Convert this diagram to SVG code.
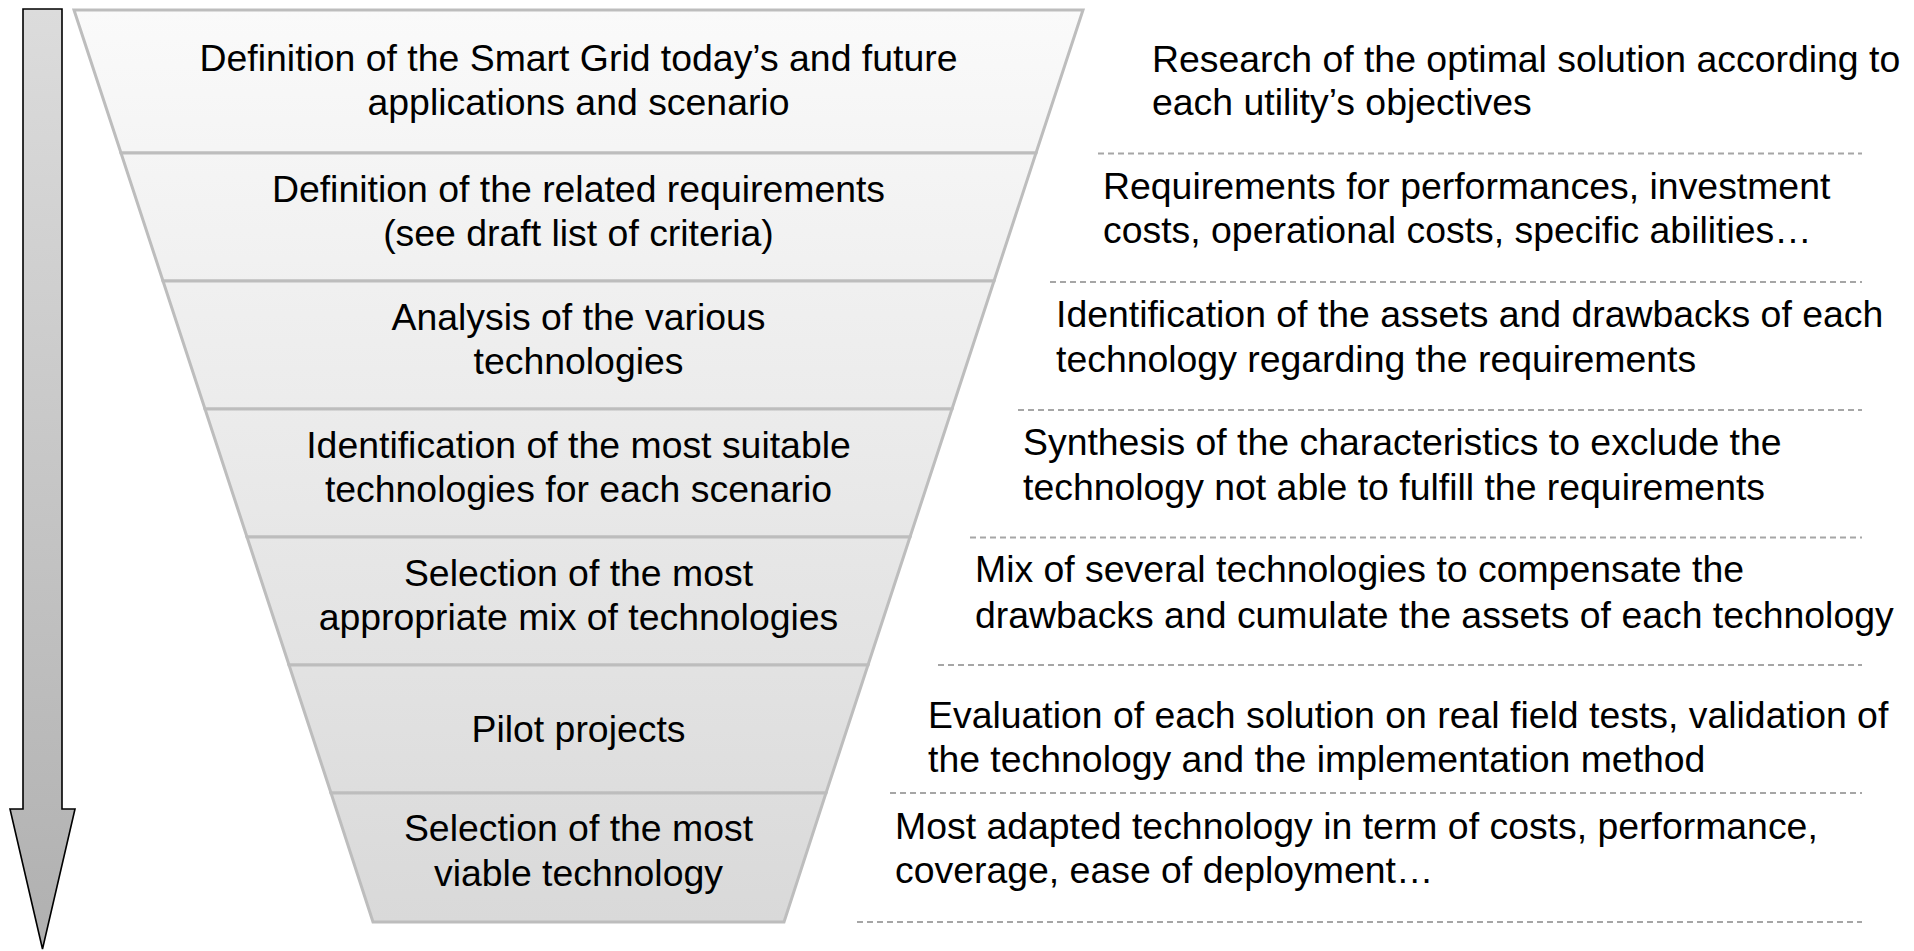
<svg xmlns="http://www.w3.org/2000/svg" width="1914" height="951" viewBox="0 0 1914 951">
  <defs>
    <linearGradient id="funnelFill" gradientUnits="userSpaceOnUse" x1="0" y1="10" x2="0" y2="922">
      <stop offset="0" stop-color="#fafafa"/>
      <stop offset="1" stop-color="#d9d9d9"/>
    </linearGradient>
    <linearGradient id="arrowFill" gradientUnits="userSpaceOnUse" x1="0" y1="9" x2="0" y2="950">
      <stop offset="0" stop-color="#dcdcdc"/>
      <stop offset="1" stop-color="#b0b0b0"/>
    </linearGradient>
  </defs>
  <style>
    .layer { fill: url(#funnelFill); stroke: #bdbdbd; stroke-width: 3; stroke-linejoin: miter; }
    .t { font-family: "Liberation Sans", Arial, sans-serif; font-size: 37.4px; fill: #000000; }
    .c { text-anchor: middle; }
    .sep { stroke: #a6a6a6; stroke-width: 2; stroke-dasharray: 6 4; fill: none; }
    .arrow { fill: url(#arrowFill); stroke: #000000; stroke-width: 1.6; stroke-linejoin: miter; }
  </style>
  <rect x="0" y="0" width="1914" height="951" fill="#ffffff"/>

  <g id="connectors">
    <polygon id="flow-arrow" class="arrow" points="23,9 62,9 62,809 75,809 42.5,949 10,809 23,809"/>
  </g>

  <g id="layer1">
    <polygon class="layer" points="74,10 1083,10 1036,153 121,153"/>
    <text class="t c" x="578.5" y="71">Definition of the Smart Grid today’s and future</text>
    <text class="t c" x="578.5" y="115">applications and scenario</text>
  </g>
  <g id="layer2">
    <polygon class="layer" points="121,153 1036,153 994,281 163,281"/>
    <text class="t c" x="578.5" y="202">Definition of the related requirements</text>
    <text class="t c" x="578.5" y="246">(see draft list of criteria)</text>
  </g>
  <g id="layer3">
    <polygon class="layer" points="163,281 994,281 952,409 205,409"/>
    <text class="t c" x="578.5" y="330">Analysis of the various</text>
    <text class="t c" x="578.5" y="374">technologies</text>
  </g>
  <g id="layer4">
    <polygon class="layer" points="205,409 952,409 910,537 247,537"/>
    <text class="t c" x="578.5" y="458">Identification of the most suitable</text>
    <text class="t c" x="578.5" y="502">technologies for each scenario</text>
  </g>
  <g id="layer5">
    <polygon class="layer" points="247,537 910,537 868,665 289,665"/>
    <text class="t c" x="578.5" y="586">Selection of the most</text>
    <text class="t c" x="578.5" y="630">appropriate mix of technologies</text>
  </g>
  <g id="layer6">
    <polygon class="layer" points="289,665 868,665 826,793 331,793"/>
    <text class="t c" x="578.5" y="742">Pilot projects</text>
  </g>
  <g id="layer7">
    <polygon class="layer" points="331,793 826,793 784,922 373,922"/>
    <text class="t c" x="578.5" y="841">Selection of the most</text>
    <text class="t c" x="578.5" y="886">viable technology</text>
  </g>

  <g id="separators">
    <line class="sep" x1="1098" y1="153.5" x2="1862" y2="153.5"/>
    <line class="sep" x1="1050" y1="282" x2="1862" y2="282"/>
    <line class="sep" x1="1018" y1="410" x2="1862" y2="410"/>
    <line class="sep" x1="970" y1="537.5" x2="1862" y2="537.5"/>
    <line class="sep" x1="938" y1="665" x2="1862" y2="665"/>
    <line class="sep" x1="890" y1="793" x2="1862" y2="793"/>
    <line class="sep" x1="857" y1="922" x2="1862" y2="922"/>
  </g>

  <g id="desc1">
    <text class="t" x="1152" y="72">Research of the optimal solution according to</text>
    <text class="t" x="1152" y="115">each utility’s objectives</text>
  </g>
  <g id="desc2">
    <text class="t" x="1103" y="199">Requirements for performances, investment</text>
    <text class="t" x="1103" y="243">costs, operational costs, specific abilities…</text>
  </g>
  <g id="desc3">
    <text class="t" x="1056" y="327">Identification of the assets and drawbacks of each</text>
    <text class="t" x="1056" y="372">technology regarding the requirements</text>
  </g>
  <g id="desc4">
    <text class="t" x="1023" y="455">Synthesis of the characteristics to exclude the</text>
    <text class="t" x="1023" y="500">technology not able to fulfill the requirements</text>
  </g>
  <g id="desc5">
    <text class="t" x="975" y="582">Mix of several technologies to compensate the</text>
    <text class="t" x="975" y="628">drawbacks and cumulate the assets of each technology</text>
  </g>
  <g id="desc6">
    <text class="t" x="928" y="728">Evaluation of each solution on real field tests, validation of</text>
    <text class="t" x="928" y="772">the technology and the implementation method</text>
  </g>
  <g id="desc7">
    <text class="t" x="895" y="839">Most adapted technology in term of costs, performance,</text>
    <text class="t" x="895" y="883">coverage, ease of deployment…</text>
  </g>
</svg>
